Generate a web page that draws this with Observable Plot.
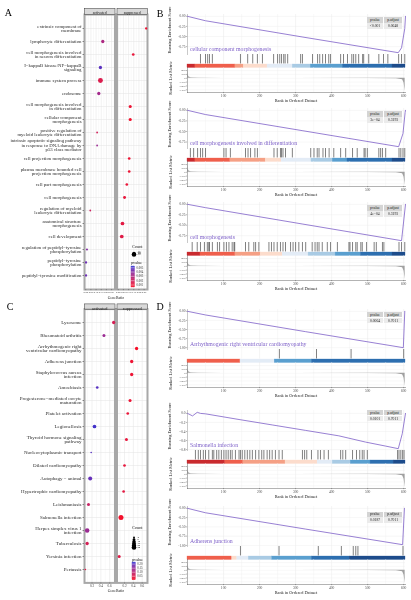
<!DOCTYPE html>
<html><head><meta charset="utf-8">
<script src="https://cdn.jsdelivr.net/npm/d3@7"></script>
<script src="https://cdn.jsdelivr.net/npm/@observablehq/plot@0.6"></script>
<style>
html,body{margin:0;padding:0;background:#fff;}
#fig{position:relative;width:411px;height:600px;overflow:hidden;background:#fff;font-family:"Liberation Serif","Times New Roman",serif;}
#fig svg{will-change:transform;}
.t{position:absolute;white-space:nowrap;line-height:1;}
</style></head><body><div id="fig"></div>
<script>
// ---------------- DATA ----------------
const groups = ["activated", "suppressed"];

// Panel A (GO terms)
const aTerms = [
  "extrinsic component of\nmembrane",
  "lymphocyte differentiation",
  "cell morphogenesis involved\nin neuron differentiation",
  "I\u2212kappaB kinase/NF\u2212kappaB\nsignaling",
  "immune system process",
  "endosome",
  "cell morphogenesis involved\nin differentiation",
  "cellular component\nmorphogenesis",
  "positive regulation of\nmyeloid leukocyte differentiation",
  "intrinsic apoptotic signaling pathway\nin response to DNA damage by\np53 class mediator",
  "cell projection morphogenesis",
  "plasma membrane bounded cell\nprojection morphogenesis",
  "cell part morphogenesis",
  "cell morphogenesis",
  "regulation of myeloid\nleukocyte differentiation",
  "anatomical structure\nmorphogenesis",
  "cell development",
  "regulation of peptidyl\u2212tyrosine\nphosphorylation",
  "peptidyl\u2212tyrosine\nphosphorylation",
  "peptidyl\u2212tyrosine modification"
];
const aGroup = ["suppressed","activated","suppressed","activated","activated","activated","suppressed","suppressed","activated","activated",
                "suppressed","suppressed","suppressed","suppressed","activated","suppressed","suppressed","activated","activated","activated"];
const aRatio = [0.27,0.165,0.145,0.142,0.142,0.126,0.116,0.116,0.11,0.11,0.106,0.106,0.083,0.061,0.044,0.041,0.034,0.012,0.003,0.003];
const aCount = [5,10,7,10,23,10,9,9,3,3,7,7,7,8,3,13,13,4,5,5];
const aPvalue = [0.0008,0.0030,0.0010,0.0048,0.0015,0.0033,0.0008,0.0006,0.0018,0.0035,0.0008,0.0008,0.0009,0.0010,0.0020,0.0012,0.0013,0.0040,0.0045,0.0045];
const aXTicks = [0, 0.05, 0.10, 0.15, 0.20, 0.25];
const aXMinor = [0.025, 0.075, 0.125, 0.175, 0.225, 0.275];
const aCountBreaks = [10, 20];
const aPvalueBreaks = [0.001, 0.002, 0.003, 0.004, 0.005];

// Panel C (KEGG pathways)
const cTerms = [
  "Lysosome",
  "Rheumatoid arthritis",
  "Arrhythmogenic right\nventricular cardiomyopathy",
  "Adherens junction",
  "Staphylococcus aureus\ninfection",
  "Amoebiasis",
  "Progesterone\u2212mediated oocyte\nmaturation",
  "Platelet activation",
  "Legionellosis",
  "Thyroid hormone signaling\npathway",
  "Nucleocytoplasmic transport",
  "Dilated cardiomyopathy",
  "Autophagy \u2212 animal",
  "Hypertrophic cardiomyopathy",
  "Leishmaniasis",
  "Salmonella infection",
  "Herpes simplex virus 1\ninfection",
  "Tuberculosis",
  "Yersinia infection",
  "Pertussis"
];
const cGroup = ["activated","activated","suppressed","suppressed","suppressed","activated","suppressed","suppressed","activated","suppressed",
                "activated","suppressed","activated","suppressed","activated","suppressed","activated","activated","suppressed","activated"];
const cRatio = [0.69,0.47,0.473,0.362,0.362,0.318,0.325,0.273,0.256,0.244,0.181,0.20,0.159,0.18,0.12,0.12,0.09,0.09,0.08,0.05];
const cCount = [12,10,12,12,12,8,10,8,15,10,3,8,18,8,10,28,23,12,10,3];
const cPvalue = [0.06,0.14,0.006,0.019,0.02,0.20,0.02,0.025,0.21,0.03,0.20,0.03,0.19,0.035,0.08,0.01,0.14,0.06,0.04,0.04];
const cXTicks = [0.2, 0.4, 0.6];
const cXMinor = [0.1, 0.3, 0.5, 0.7];
const cCountBreaks = [4, 8, 12, 16, 20, 24];
const cPvalueBreaks = [0.05, 0.10, 0.15, 0.20];

// GSEA shared
const rankTicks = [100, 200, 300, 400, 500, 600];
const rankMinor = [50, 150, 250, 350, 450, 550];
const metricTicks = [200, 100, 0, -100, -200, -300];
const metricRank = [1, 2, 4, 10, 30, 100, 300, 500, 580, 597, 601, 604];
const metricValue = [250, 90, 30, 12, 6, 3, 0, -3, -10, -40, -120, -340];
const esTicksB = [0, -0.25, -0.5, -0.75];
const esTicksD = [0, -0.25, -0.5, -0.75, -1.0];
const esTicksD2 = [0, -0.2, -0.4, -0.6, -0.8];
const binLevels = [4, 3, 2, 1, -1, -2, -3, -4, -5];

// B1
const b1Title = "cellular component morphogenesis";
const b1Pvalue = "<0.001", b1Padjust = "0.0648";
const b1EsRank = [0, 50, 318, 585, 594, 603, 605];
const b1EsValue = [0, -0.11, -0.51, -0.90, -0.78, -0.30, 0];
const b1Hits = [36,50,56,61,69,147,167,181,194,208,239,250,256,261,267,271,278,314,319,347,361,367,375,383,392,397,425,433,444,456,461,467,475,486,489,503,531,544,556,586,594,603];
const b1SegStart = [0,22,133,156,222,292,342,431,569];
const b1SegLevel = [4,3,2,1,-1,-2,-3,-4,-5];
// B2
const b2Title = "cell morphogenesis involved in differentiation";
const b2Pvalue = "3e\u221204", b2Padjust = "0.3193";
const b2EsRank = [0, 50, 318, 586, 598, 604, 605];
const b2EsValue = [0, -0.10, -0.48, -0.86, -0.55, -0.05, 0];
const b2Hits = [8,17,28,36,42,50,101,107,119,161,168,175,187,194,240,249,258,261,265,272,291,342,351,360,365,376,383,393,406,425,439,458,471,490,493,499,531,536,541,550,587,592,598,603];
const b2SegStart = [0,22,119,217,261,344,403,444,569];
const b2SegLevel = [4,3,2,1,-1,-2,-3,-4,-5];
// B3
const b3Title = "cell morphogenesis";
const b3Pvalue = "4e\u221204", b3Padjust = "0.3193";
const b3EsRank = [0, 50, 318, 594, 600, 605];
const b3EsValue = [0, -0.08, -0.47, -0.87, -0.40, 0];
const b3Hits = [13,27,36,47,55,59,61,69,83,89,101,108,115,124,129,131,161,170,184,189,198,226,233,240,249,258,265,272,286,293,300,309,319,328,346,354,360,365,374,388,397,416,448,451,458,467,471,481,485,497,518,524,541,545,587,594,603];
const b3SegStart = [0,36,133,203,264,336,411,481,569];
const b3SegLevel = [4,3,2,1,-1,-2,-3,-4,-5];
// D1
const d1Title = "Arrhythmogenic right ventricular cardiomyopathy";
const d1Pvalue = "0.0064", d1Padjust = "0.7011";
const d1EsRank = [0, 50, 328, 599, 603];
const d1EsValue = [0, -0.10, -0.56, -1.00, 0];
const d1Hits = [255, 358, 454, 600];
const d1SegStart = [0, 147, 242, 345];
const d1SegLevel = [3, -1, -3, -4];
// D2
const d2Title = "Salmonella infection";
const d2Pvalue = "0.0101", d2Padjust = "0.7011";
const d2EsRank = [0, 14, 27, 36, 50, 143, 235, 328, 420, 494, 550, 585, 596, 605];
const d2EsValue = [0, -0.055, 0.024, 0, -0.01, -0.135, -0.255, -0.376, -0.496, -0.634, -0.723, -0.78, -0.45, 0];
const d2Hits = [22,30,36,44,50,59,69,73,81,87,94,101,107,113,119,124,133,143,147,152,159,166,173,180,189,198,206,212,221,228,235,244,254,263,319,325,331,344,362,369,379,391,425,431,439,458,469,478,485,490,499,583,587,592,597,601];
const d2SegStart = [0,105,155,272,361,403,453,508,572];
const d2SegLevel = [4,3,2,1,-1,-2,-3,-4,-5];
// D3
const d3Title = "Adherens junction";
const d3Pvalue = "0.0187", d3Padjust = "0.7011";
const d3EsRank = [0, 50, 328, 597, 602];
const d3EsValue = [0, -0.12, -0.56, -0.98, 0];
const d3Hits = [147, 254, 363, 427, 460, 467, 473, 598];
const d3SegStart = [0, 124, 138, 170, 235, 345, 450];
const d3SegLevel = [3, 1, -1, -2, -3, -4, -5];

// ---------------- STYLE / HELPERS ----------------
const FONT = '"Liberation Serif","Times New Roman",serif';
const PURPLE = "#7d5fc8";
const PALETTE = ["#c92a2e","#ef5f4c","#f5a085","#fcdccc","#e3ecf6","#a9cbe4","#5a9fcf","#2d6fb0","#1d4c8b"];
const N = 605;
const fig = document.getElementById("fig");
const svgStyle = {background: "transparent", overflow: "visible", fontFamily: FONT};

function place(node, x, y) {
  node.style.position = "absolute";
  node.style.left = x + "px";
  node.style.top = y + "px";
  fig.appendChild(node);
  return node;
}
function label(text, x, y, size, opts = {}) {
  const {anchor = "start", rotate = 0, color = "#1a1a1a"} = opts;
  const d = document.createElement("div");
  d.className = "t";
  d.textContent = text;
  d.style.fontSize = "10px";
  d.style.color = color;
  const ox = anchor === "start" ? "0%" : anchor === "end" ? "100%" : "50%";
  d.style.transformOrigin = ox + " 50%";
  d.style.transform = `translate(-${ox}, -50%) rotate(${rotate}deg) scale(${size / 10})`;
  place(d, x, y);
}
function statTable(x, y, pv, pa) {
  const d = document.createElement("div");
  d.style.cssText = "display:grid;grid-template-columns:16px 18px;grid-auto-rows:5.4px;gap:0.6px;";
  for (const [t, bg] of [["pvalue", "#d4d4d4"], ["p.adjust", "#d4d4d4"], [pv, "#ebebeb"], [pa, "#ebebeb"]]) {
    const c = document.createElement("div");
    c.style.cssText = `background:${bg};position:relative;`;
    const s = document.createElement("span");
    s.textContent = t;
    s.style.cssText = "position:absolute;left:50%;top:50%;font-size:10px;white-space:nowrap;line-height:1;transform:translate(-50%,-50%) scale(0.37);color:#222;";
    c.appendChild(s);
    d.appendChild(c);
  }
  place(d, x, y);
}
function colorOpts(domain) {
  return {type: "linear", domain, range: ["#f80c24", "#2434d2"], interpolate: "lab"};
}

function dotPlot(o) {
  const data = o.terms.map((term, i) => ({term, group: o.group[i], ratio: o.ratio[i], count: o.count[i], p: o.pvalue[i]}));
  const frameH = o.height - o.mt - o.mb;
  const svg = Plot.plot({
    width: 150, height: o.height,
    marginLeft: 84, marginRight: 3, marginTop: o.mt, marginBottom: o.mb,
    style: svgStyle,
    fx: {domain: groups, paddingInner: 4 / 65, paddingOuter: 0, round: false, axis: null, label: null},
    x: {domain: o.xDomain, label: null},
    y: {type: "point", domain: o.terms, padding: 0.6, label: null},
    r: {type: "sqrt", domain: [0, o.rMax], range: [0, o.rRange]},
    color: colorOpts(o.pDomain),
    marks: [
      Plot.gridX(o.xMinor, {stroke: "#f0f0f0", strokeOpacity: 1, strokeWidth: 0.4}),
      Plot.gridX(o.xTicks, {stroke: "#e2e2e2", strokeOpacity: 1, strokeWidth: 0.5}),
      Plot.gridY({stroke: "#e2e2e2", strokeOpacity: 1, strokeWidth: 0.5}),
      Plot.frame({stroke: "#a8a8a8", strokeWidth: 2}),
      Plot.frame({fill: "#d9d9d9", stroke: "#333", strokeWidth: 0.5, insetTop: -o.strip, insetBottom: frameH}),
      Plot.text(groups, {fx: (d) => d, text: (d) => d, frameAnchor: "top", dy: -o.strip / 2, fontSize: o.stripFont, fill: "#1a1a1a"}),
      Plot.axisY({tickSize: 1.5, tickPadding: 1.5, fontSize: o.labelFont, lineHeight: 0.93, color: "#2a2a2a", strokeWidth: 0.5, label: null}),
      Plot.axisX(o.xTicks, {tickSize: 1.2, tickPadding: 0.6, fontSize: o.tickFont, color: "#444", strokeWidth: 0.4, tickFormat: d3.format(o.xFmt), label: null}),
      Plot.dot(data, {x: "ratio", y: "term", fx: "group", r: "count", fill: "p"})
    ]
  });
  place(svg, 0, o.top);
}

function countLegend(breaks, rMax, rRange, left, top, h, y0, y1, fs) {
  const svg = Plot.plot({
    width: 16, height: h, marginLeft: 0, marginRight: 11, marginTop: 0, marginBottom: 0,
    style: svgStyle,
    x: {axis: null},
    y: {type: "point", domain: breaks, range: [y0, y1], axis: null},
    r: {type: "sqrt", domain: [0, rMax], range: [0, rRange]},
    marks: [
      Plot.dot(breaks, {y: (d) => d, r: (d) => d, fill: "black"}),
      Plot.text(breaks, {y: (d) => d, text: (d) => String(d), textAnchor: "start", dx: 3.5, fontSize: fs, fill: "#1a1a1a"})
    ]
  });
  place(svg, left, top);
}
function colorBar(domain, breaks, fmt, left, top, h, barW) {
  const n = 30;
  const slices = d3.range(n).map((i) => [domain[0] + (domain[1] - domain[0]) * i / n, domain[0] + (domain[1] - domain[0]) * (i + 1) / n]);
  const svg = Plot.plot({
    width: barW + 20, height: h, marginLeft: 0, marginRight: 20, marginTop: 0, marginBottom: 0,
    style: svgStyle,
    y: {domain},
    color: colorOpts(domain),
    marks: [
      Plot.barY(slices, {y1: (d) => d[0], y2: (d) => d[1], fill: (d) => (d[0] + d[1]) / 2, stroke: (d) => (d[0] + d[1]) / 2, strokeWidth: 0.3}),
      Plot.tickY(breaks, {y: (d) => d, stroke: "white", strokeWidth: 0.4}),
      Plot.axisY(breaks, {anchor: "right", tickSize: 0, tickPadding: 1.5, fontSize: 3.0, color: "#333", tickFormat: d3.format(fmt), label: null})
    ]
  });
  place(svg, left, top);
}

function gsea(s) {
  const L = 170;
  const base = {width: 241, marginLeft: 17, marginRight: 6, marginTop: 0, style: svgStyle};
  const xs = {domain: [0, N], axis: null};
  const vgrid = () => [
    Plot.gridX(rankMinor, {stroke: "#f1f1f1", strokeOpacity: 1, strokeWidth: 0.4}),
    Plot.gridX(rankTicks, {stroke: "#e6e6e6", strokeOpacity: 1, strokeWidth: 0.45})
  ];
  // running enrichment score
  const es = s.esRank.map((rank, i) => ({rank, v: s.esValue[i]}));
  const lo = d3.min(s.esValue), hi = d3.max(s.esValue), pad = (hi - lo) * 0.05;
  place(Plot.plot({
    ...base, height: 40, marginBottom: 0, x: xs, y: {domain: [lo - pad, hi + pad]},
    marks: [
      ...vgrid(),
      Plot.gridY(s.esTicks, {stroke: "#ececec", strokeOpacity: 1, strokeWidth: 0.4}),
      Plot.frame({anchor: "left", stroke: "#777", strokeWidth: 0.4}),
      Plot.axisY(s.esTicks, {tickSize: 1.2, tickPadding: 0.8, fontSize: 3.4, color: "#4d4d4d", strokeWidth: 0.4, tickFormat: d3.format(s.esFmt), label: null}),
      Plot.line(es, {x: "rank", y: "v", stroke: PURPLE, strokeWidth: 0.8})
    ]
  }), L, s.T);
  // hits
  place(Plot.plot({
    ...base, height: 9.5, marginBottom: 0, x: xs,
    marks: [...vgrid(), Plot.ruleX(s.hits, {stroke: "#000", strokeWidth: 0.5})]
  }), L, s.T + 40);
  // colour bar
  const segs = s.segStart.map((x1, i) => ({x1, x2: i + 1 < s.segStart.length ? s.segStart[i + 1] : N, level: s.segLevel[i]}));
  place(Plot.plot({
    ...base, height: 3.5, marginBottom: 0, x: xs,
    color: {type: "ordinal", domain: binLevels, range: PALETTE},
    marks: [Plot.barX(segs, {x1: "x1", x2: "x2", fill: "level", stroke: "level", strokeWidth: 0.3})]
  }), L, s.T + 49.5);
  // ranked list metric
  const met = metricRank.map((rank, i) => ({rank, v: metricValue[i]}));
  const mlo = d3.min(metricValue), mhi = d3.max(metricValue), mp = (mhi - mlo) * 0.05;
  place(Plot.plot({
    ...base, height: 35, marginBottom: 10, x: {domain: [0, N]}, y: {domain: [mlo - mp, mhi + mp]},
    marks: [
      ...vgrid(),
      Plot.gridY(metricTicks, {stroke: "#ededed", strokeOpacity: 1, strokeWidth: 0.4}),
      Plot.areaY(met, {x: "rank", y: "v", fill: "#a0a0a0"}),
      Plot.frame({anchor: "left", stroke: "#555", strokeWidth: 0.45}),
      Plot.frame({anchor: "bottom", stroke: "#555", strokeWidth: 0.45}),
      Plot.axisY(metricTicks, {tickSize: 1.2, tickPadding: 0.8, fontSize: 2.9, color: "#4d4d4d", strokeWidth: 0.4, label: null}),
      Plot.axisX(rankTicks, {tickSize: 1.2, tickPadding: 0.7, fontSize: 3.6, color: "#4d4d4d", strokeWidth: 0.4, label: null})
    ]
  }), L, s.T + 53);
  label("Running Enrichment Score", 169.5, s.T + 15.5, 4.3, {anchor: "middle", rotate: -90});
  label("Ranked List Metric", 170.5, s.T + 64, 4.3, {anchor: "middle", rotate: -90});
  label("Rank in Ordered Dataset", 296, s.T + 86.5, 4.3, {anchor: "middle"});
  label(s.title, 189.5, s.T + 35, 5.8, {color: PURPLE});
  statTable(367.3, s.tableY, s.pv, s.pa);
}

// ---------------- BUILD ----------------
dotPlot({terms: aTerms, group: aGroup, ratio: aRatio, count: aCount, pvalue: aPvalue,
  top: 0, height: 300, mt: 14, mb: 11, strip: 6, stripFont: 3.9, labelFont: 4.8, tickFont: 2.6,
  xDomain: [-0.012, 0.283], xTicks: aXTicks, xMinor: aXMinor, xFmt: ".2f",
  rMax: 25, rRange: 2.57, pDomain: [0.0004, 0.0053]});
dotPlot({terms: cTerms, group: cGroup, ratio: cRatio, count: cCount, pvalue: cPvalue,
  top: 295, height: 300, mt: 13.6, mb: 12.6, strip: 5.2, stripFont: 4.3, labelFont: 5.0, tickFont: 3.4,
  xDomain: [0.03, 0.72], xTicks: cXTicks, xMinor: cXMinor, xFmt: ".1f",
  rMax: 30, rRange: 2.6, pDomain: [0.002, 0.22]});

label("GeneRatio", 115.5, 297.5, 3.8, {anchor: "middle"});
label("GeneRatio", 115.5, 590.5, 3.8, {anchor: "middle"});

// legends A
label("Count", 131.5, 246.5, 4.3);
countLegend(aCountBreaks, 25, 2.57, 130.5, 248, 10, 3.7, 7, 3.0);
label("pvalue", 131.3, 262.5, 4.2);
colorBar([0.0004, 0.0053], aPvalueBreaks, ".3f", 131, 266, 21, 3.5);
// legends C
label("Count", 131.7, 528.3, 4.3);
countLegend(cCountBreaks, 30, 2.6, 130.8, 531, 22, 2.3, 20, 2.6);
label("pvalue", 131.7, 559.8, 4.2);
colorBar([0.002, 0.22], cPvalueBreaks, ".2f", 131.7, 562.3, 17.7, 3.3);

// GSEA panels
const specs = [
  {T: 14, tableY: 17.3, title: b1Title, pv: b1Pvalue, pa: b1Padjust, esRank: b1EsRank, esValue: b1EsValue, esTicks: esTicksB, esFmt: ".2f", hits: b1Hits, segStart: b1SegStart, segLevel: b1SegLevel},
  {T: 108, tableY: 111.3, title: b2Title, pv: b2Pvalue, pa: b2Padjust, esRank: b2EsRank, esValue: b2EsValue, esTicks: esTicksB, esFmt: ".2f", hits: b2Hits, segStart: b2SegStart, segLevel: b2SegLevel},
  {T: 202, tableY: 205.3, title: b3Title, pv: b3Pvalue, pa: b3Padjust, esRank: b3EsRank, esValue: b3EsValue, esTicks: esTicksB, esFmt: ".2f", hits: b3Hits, segStart: b3SegStart, segLevel: b3SegLevel},
  {T: 309, tableY: 312, title: d1Title, pv: d1Pvalue, pa: d1Padjust, esRank: d1EsRank, esValue: d1EsValue, esTicks: esTicksD, esFmt: ".2f", hits: d1Hits, segStart: d1SegStart, segLevel: d1SegLevel},
  {T: 410, tableY: 410, title: d2Title, pv: d2Pvalue, pa: d2Padjust, esRank: d2EsRank, esValue: d2EsValue, esTicks: esTicksD2, esFmt: ".1f", hits: d2Hits, segStart: d2SegStart, segLevel: d2SegLevel},
  {T: 506, tableY: 511.5, title: d3Title, pv: d3Pvalue, pa: d3Padjust, esRank: d3EsRank, esValue: d3EsValue, esTicks: esTicksD, esFmt: ".2f", hits: d3Hits, segStart: d3SegStart, segLevel: d3SegLevel}
];
specs.forEach(gsea);

// panel letters
label("A", 8.3, 12.7, 10, {anchor: "middle", color: "#000"});
label("B", 160, 14, 10, {anchor: "middle", color: "#000"});
label("C", 10, 307.3, 10, {anchor: "middle", color: "#000"});
label("D", 160, 307.3, 10, {anchor: "middle", color: "#000"});
</script></body></html>
